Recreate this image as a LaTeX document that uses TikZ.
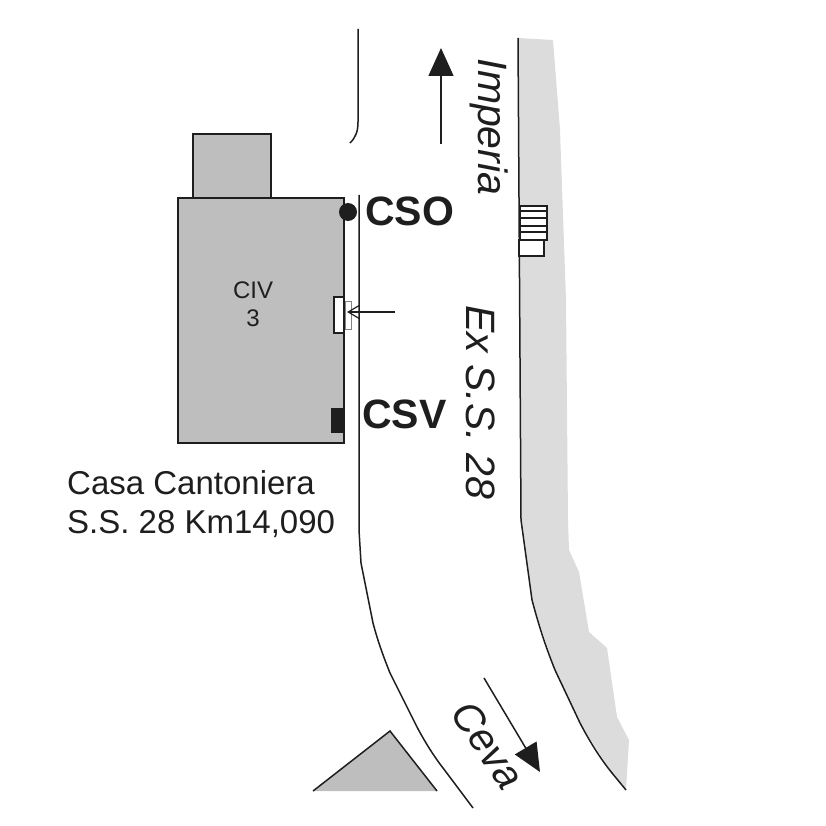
\documentclass[tikz,border=0pt]{standalone}
\usepackage{fontspec}
\setmainfont{Liberation Sans}
\usetikzlibrary{arrows.meta}
\definecolor{housegray}{HTML}{BEBEBE}
\definecolor{verge}{HTML}{DCDCDC}
\definecolor{ink}{HTML}{1E1E1E}
\tikzset{
  edgeline/.style={draw=ink,line width=1.5pt},
  road/.style={font=\fontsize{41}{41}\selectfont\itshape,text=ink,inner sep=0pt},
  site/.style={font=\fontsize{41}{41}\selectfont\bfseries,text=ink,inner sep=0pt},
  plain/.style={text=ink,inner sep=0pt,align=center}
}
\begin{document}
\begin{tikzpicture}
    [x=1pt,y=-1pt]
    \useasboundingbox (0,0) rectangle (826,826);

    % verge along the road
    \fill[verge] (518,38) -- (553,40) -- (560,130) -- (566,300) -- (568,520) -- (569,550)
      -- (579,572) -- (589,632) -- (607,648) -- (617,717) -- (629,740) -- (626,790)
      -- (612,773) -- (580,723) -- (555,670) -- (532,600) -- (521,520) -- cycle;
    \draw[edgeline] (518,38) -- (521,520) -- (532,600) .. controls (540,630) and (547,650) .. (555,670)
      -- (580,723) .. controls (590,742) and (600,758) .. (612,773) -- (626,790);

    % steps
    \draw[edgeline,fill=white] (520,206) rectangle (547,240);
    \foreach \ypos in {211,218,226,232}
    \draw[edgeline] (520,\ypos) -- (547,\ypos);
    \draw[edgeline,fill=white] (519,240) rectangle (544,256);

    % buildings
    \draw[edgeline,fill=housegray] (193,134) rectangle (271,198);
    \draw[edgeline,fill=housegray] (178,198) rectangle (344,443);
    \fill[housegray] (313,791) -- (390,731) -- (437,791) -- cycle;
    \draw[edgeline] (313,791) -- (390,731) -- (437,791);

    % near side of the road
    \draw[edgeline] (358,29) -- (358,122) .. controls (358,131) and (356,137) .. (350,143);
    \draw[edgeline] (359,195) -- (359,530) -- (361,563) -- (373,623) .. controls (378,642) and (384,658) .. (390,673)
      -- (417,727) .. controls (425,742) and (433,755) .. (443,768) -- (473,808);

    % cabinets
    \node[draw=ink,line width=1.2pt,fill=white,minimum width=10pt,minimum height=36pt,inner sep=0pt] (box) at (339,315) {};
    \node[draw=ink!55,line width=0.7pt,minimum width=6pt,minimum height=28pt,inner sep=0pt,anchor=west] (meter) at (box.east) {};
    \fill[ink] (331,408) rectangle (345,433);
    \fill[ink] (348,212) circle (9);

    \node[site,anchor=west] (cso) at (365,211) {CSO};
    \node[site,anchor=west] (csv) at (362,414) {CSV};
    \node[plain,font=\fontsize{24}{28}\selectfont] (civ) at (253,304) {CIV\\3};
    \node[plain,font=\fontsize{33}{39}\selectfont,align=left,anchor=west] (casa) at (67,504) {Casa Cantoniera\\S.S. 28 Km14,090};

    \node[road,rotate=-90] (imperia) at (489,127) {Imperia};
    \node[road,rotate=-90] (exss) at (481,402) {Ex S.S. 28};
    \node[road,rotate=-56] (ceva) at (488,745) {Ceva};

    \coordinate (imperia0) at (441,144);
    \coordinate (imperia1) at (441,48);
    \coordinate (ceva0) at (484,678);
    \coordinate (ceva1) at (540,772);
    \coordinate (box0) at (395,312);
    \coordinate (box1) at (347,312);

    \foreach \from/\to in {imperia0/imperia1, ceva0/ceva1}
    \draw[ink,line width=1.5pt,-{Triangle[length=28pt,width=25pt]}] (\from) -- (\to);
    \draw[ink,line width=1.2pt,-{Straight Barb[length=11pt,width=13pt]}] (box0) -- (box1);
\end{tikzpicture}
\end{document}
